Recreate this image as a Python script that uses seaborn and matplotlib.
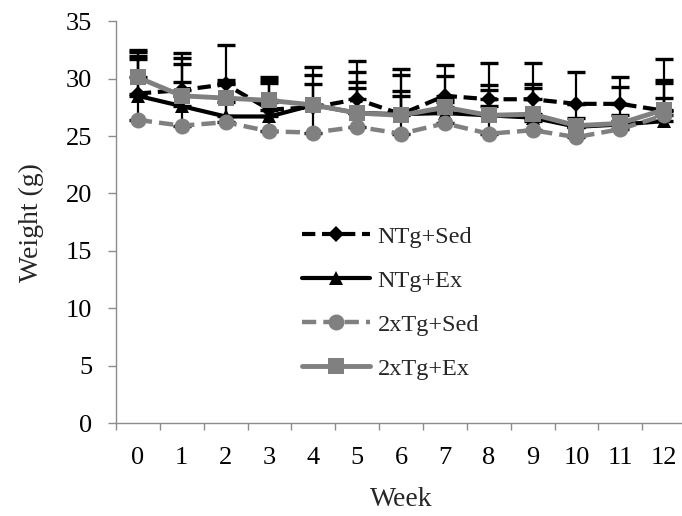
import numpy as np
import pandas as pd
import matplotlib
matplotlib.use("Agg")
import matplotlib.pyplot as plt
import seaborn as sns

# Body weight over the training period, mean with upper SD bars
weeks = list(range(13))
week_labels = [str(w) for w in weeks]
groups = ["NTg+Sed", "NTg+Ex", "2xTg+Sed", "2xTg+Ex"]

ntg_sed = [28.7, 29.0, 29.5, 27.3, 27.5, 28.2, 26.9, 28.5, 28.2, 28.2, 27.8, 27.8, 27.2]
ntg_ex = [28.5, 27.6, 26.7, 26.7, 27.7, 27.0, 26.9, 27.0, 26.8, 26.6, 25.8, 26.0, 26.3]
tg_sed = [26.4, 25.9, 26.2, 25.4, 25.3, 25.8, 25.2, 26.1, 25.2, 25.5, 24.9, 25.6, 26.8]
tg_ex = [30.1, 28.5, 28.3, 28.1, 27.7, 27.0, 26.8, 27.5, 26.8, 26.9, 25.9, 26.1, 27.3]

ntg_sed_sd = [3.6, 2.3, 3.4, 2.8, 3.5, 3.3, 3.9, 2.7, 3.2, 3.2, 2.8, 2.3, 2.7]
ntg_ex_sd = [3.5, 4.2, 3.2, 3.15, 2.6, 3.6, 3.4, 3.2, 2.6, 2.9, 2.0, 3.3, 5.4]
tg_sed_sd = [5.3, 3.8, 1.8, 2.6, 2.2, 3.4, 3.3, 1.9, 3.8, 0.8, 0.9, 0.7, 2.8]
tg_ex_sd = [2.4, 3.7, 1.3, 1.5, 1.8, 2.7, 2.1, 0.7, 0.8, 2.3, 0.7, 0.7, 1.0]

means = {"NTg+Sed": ntg_sed, "NTg+Ex": ntg_ex, "2xTg+Sed": tg_sed, "2xTg+Ex": tg_ex}
sds = {"NTg+Sed": ntg_sed_sd, "NTg+Ex": ntg_ex_sd, "2xTg+Sed": tg_sed_sd, "2xTg+Ex": tg_ex_sd}

styles = {
    "NTg+Sed": dict(color="black", marker="D", ms=8.5, ls=(0, (3.2, 1.6)), lw=3.0),
    "NTg+Ex": dict(color="black", marker="^", ms=10.5, ls="-", lw=3.0),
    "2xTg+Sed": dict(color="#808080", marker="o", ms=11.5, ls=(0, (3.2, 1.6)), lw=3.2),
    "2xTg+Ex": dict(color="#808080", marker="s", ms=11.5, ls="-", lw=3.5),
}

df = pd.DataFrame({
    "Week": np.tile(weeks, len(groups)),
    "Weight": np.concatenate([means[g] for g in groups]),
    "SD": np.concatenate([sds[g] for g in groups]),
    "Group": np.repeat(groups, len(weeks)),
})

sns.set_theme(style="white")
plt.rcParams["font.family"] = ["Liberation Serif", "DejaVu Serif"]

fig = plt.figure(figsize=(6.82, 5.16), dpi=100)
ax = fig.add_axes([0.170, 0.180, 0.836, 0.779])

# Upper error bars first, lines and markers over them
for g in groups:
    d = df[df["Group"] == g]
    ax.errorbar(d["Week"], d["Weight"], yerr=[np.zeros(len(d)), d["SD"]],
                fmt="none", ecolor="black", elinewidth=1.6, capsize=6.5, capthick=2.4,
                zorder=2)

for i, g in enumerate(groups):
    st = styles[g]
    d = df[df["Group"] == g]
    sns.lineplot(data=d, x="Week", y="Weight", ax=ax, color=st["color"],
                 marker=st["marker"], markersize=st["ms"], markeredgewidth=0,
                 linewidth=st["lw"], linestyle=st["ls"], label=g, zorder=3 + i,
                 errorbar=None)

ax.set_xlim(-0.5, 12.5)
ax.set_ylim(0, 35)
ax.set_yticks(range(0, 36, 5))
ax.set_xticks(weeks)
ax.set_xticklabels(week_labels)
ax.set_xticks(np.arange(-0.5, 12.0, 1.0), minor=True)

for side in ["top", "right"]:
    ax.spines[side].set_visible(False)
for side in ["left", "bottom"]:
    ax.spines[side].set_color("#8c8c8c")
    ax.spines[side].set_linewidth(1.0)

ax.tick_params(axis="y", which="major", direction="out", length=6, width=1.0,
               color="#8c8c8c", left=True, pad=11, labelsize=19, labelcolor="black")
ax.tick_params(axis="x", which="major", length=0, pad=17, labelsize=19, labelcolor="black")
ax.tick_params(axis="x", which="minor", direction="out", length=5, width=1.0,
               color="#8c8c8c", bottom=True)

ax.set_xlabel("Week", fontsize=20, labelpad=13)
ax.set_ylabel("Weight (g)", fontsize=20, labelpad=16)

leg = ax.legend(loc="upper left", bbox_to_anchor=(0.31, 0.515), frameon=False,
                fontsize=17.5, handlelength=2.8, handletextpad=0.3,
                labelspacing=0.9, borderaxespad=0)

fig.savefig("out.png", dpi=100)
